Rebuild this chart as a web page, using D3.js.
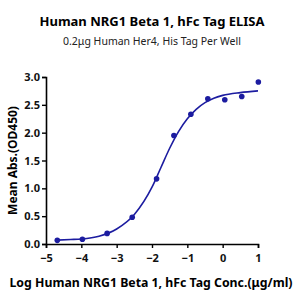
<!DOCTYPE html>
<html>
<head>
<meta charset="utf-8">
<script src="https://cdn.jsdelivr.net/npm/d3@7"></script>
<style>
  body { margin: 0; background: #fff; }
  text { font-family: "Noto Sans", "Open Sans", sans-serif; }
</style>
</head>
<body>
<div id="main"></div>
<script>
// data (log conc, OD450)
let logConc = [-4.68, -3.97, -3.27, -2.56, -1.87, -1.38, -0.90, -0.42, 0.06, 0.54, 1.01]
let od450 = [0.066, 0.084, 0.19, 0.48, 1.17, 1.95, 2.33, 2.61, 2.59, 2.65, 2.91]

// fitted curve
let curveX = [-4.68, -4.3, -4.0, -3.5, -3.0, -2.5, -2.0, -1.75, -1.5, -1.25, -1.0, -0.75, -0.5, -0.25, 0, 0.5, 1.0]
let curveY = [0.07, 0.08, 0.09, 0.14, 0.27, 0.53, 1.02, 1.37, 1.72, 2.02, 2.25, 2.42, 2.54, 2.62, 2.67, 2.72, 2.75]

let xTicks = [-5, -4, -3, -2, -1, 0, 1]
let yTicks = [0, 0.5, 1.0, 1.5, 2.0, 2.5, 3.0]

let color = "#1c1ca0"

let margin = {top: 77, right: 42, bottom: 56, left: 46},
    width = 300 - margin.left - margin.right,
    height = 300 - margin.top - margin.bottom;

let mainSVG = d3.select("#main")
    .append("svg")
    .attr("width", 300)
    .attr("height", 300)

mainSVG.append("text")
    .attr("x", 152).attr("y", 26)
    .attr("text-anchor", "middle")
    .attr("font-size", "13px")
    .attr("font-weight", "bold")
    .text("Human NRG1 Beta 1, hFc Tag ELISA")

mainSVG.append("text")
    .attr("x", 152).attr("y", 45)
    .attr("text-anchor", "middle")
    .attr("font-size", "10.5px")
    .attr("fill", "#222")
    .text("0.2μg Human Her4, His Tag Per Well")

let svg = mainSVG.append("g")
    .attr("transform", "translate(" + margin.left + "," + margin.top + ")")

let x = d3.scaleLinear().domain([-5, 1]).range([0, width])
let y = d3.scaleLinear().domain([0, 3]).range([height, 0])

let xAxis = svg.append("g")
    .attr("transform", "translate(0," + height + ")")
    .call(d3.axisBottom(x).tickValues(xTicks).tickSize(4).tickFormat(d3.format("d")))

let yAxis = svg.append("g")
    .call(d3.axisLeft(y).tickValues(yTicks).tickSize(4).tickFormat(d3.format(".1f")))

svg.selectAll(".domain").attr("stroke", "#000").attr("stroke-width", 1.6)
svg.selectAll(".tick line").attr("stroke", "#000").attr("stroke-width", 1.4)
svg.selectAll(".tick text")
    .attr("font-family", "'Noto Sans', sans-serif")
    .attr("font-size", "11px")
    .attr("font-weight", "bold")
    .attr("fill", "#111")
xAxis.selectAll(".tick text").attr("dy", "1em")
yAxis.selectAll(".tick text").attr("x", -6)

mainSVG.append("text")
    .attr("x", 151).attr("y", 287)
    .attr("text-anchor", "middle")
    .attr("font-size", "12.3px")
    .attr("font-weight", "bold")
    .text("Log Human NRG1 Beta 1, hFc Tag Conc.(μg/ml)")

mainSVG.append("text")
    .attr("transform", "translate(17," + (margin.top + height / 2) + ") rotate(-90)")
    .attr("text-anchor", "middle")
    .attr("font-size", "12px")
    .attr("font-weight", "bold")
    .text("Mean Abs.(OD450)")

let line = d3.line()
    .x((d, i) => x(curveX[i]))
    .y(d => y(d))
    .curve(d3.curveMonotoneX)

svg.append("path")
    .datum(curveY)
    .attr("d", line)
    .attr("fill", "none")
    .attr("stroke", color)
    .attr("stroke-width", 1.6)

svg.selectAll("circle.pt")
    .data(od450)
    .enter()
    .append("circle")
    .attr("class", "pt")
    .attr("cx", (d, i) => x(logConc[i]))
    .attr("cy", d => y(d))
    .attr("r", 2.8)
    .attr("fill", color)
</script>
</body>
</html>
